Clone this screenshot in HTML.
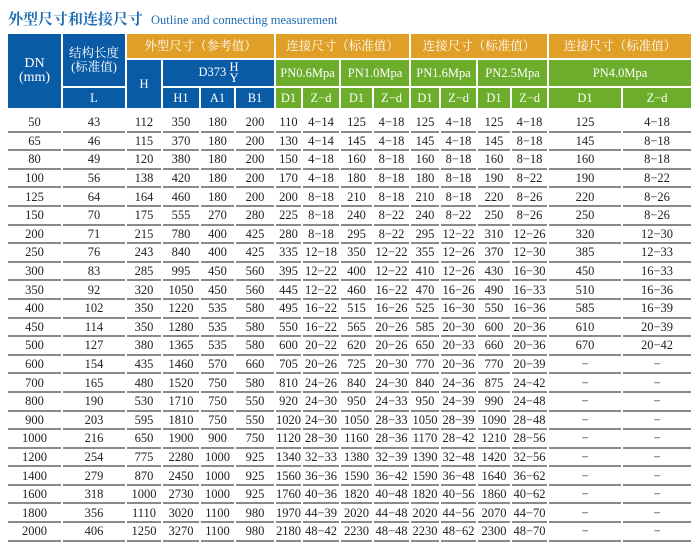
<!DOCTYPE html>
<html><head><meta charset="utf-8"><style>
body{margin:0;width:700px;height:552px;background:#fff;overflow:hidden;font-family:"Liberation Serif","Noto Serif CJK SC",serif;}
.title{position:absolute;left:8px;top:8px;color:#1f6db5;white-space:nowrap}
.title b{font-family:"Liberation Serif","Noto Serif CJK SC",serif;font-size:15px;font-weight:bold}
.title span{font-size:12.5px;margin-left:8px}
table{position:absolute;left:6px;border-collapse:separate;table-layout:fixed;width:687px}
#h{top:32px;border-spacing:2px}
#h td{color:#fff;text-align:center;font-size:12.5px;padding:0;line-height:14px}
.b{background:#0a5ba6}.o{background:#e0a028}.g{background:#6cad2b}
#d{top:114px;border-spacing:2px 0}
#d td{height:16.6px;border-bottom:2px solid #8a8a8a;text-align:center;font-size:12.5px;color:#222;padding:0;line-height:16px;white-space:nowrap}
</style></head><body>
<div class="title"><b>外型尺寸和连接尺寸</b><span>Outline and connecting measurement</span></div>
<table id="h">
<colgroup><col style="width:53px"><col style="width:62px"><col style="width:34px"><col style="width:36px"><col style="width:33px"><col style="width:38px"><col style="width:25px"><col style="width:36px"><col style="width:31px"><col style="width:35px"><col style="width:28px"><col style="width:35px"><col style="width:32px"><col style="width:35px"><col style="width:72px"><col style="width:68px"></colgroup>
<tr style="height:24px"><td class="b" rowspan="3" style="font-size:14px">DN<br>(mm)</td><td class="b" rowspan="2" style="height:50px">结构长度<br>(标准值)</td><td class="o" colspan="4">外型尺寸（参考值）</td><td class="o" colspan="4">连接尺寸（标准值）</td><td class="o" colspan="4">连接尺寸（标准值）</td><td class="o" colspan="2">连接尺寸（标准值）</td></tr>
<tr style="height:26px"><td class="b" rowspan="2">H</td><td class="b" colspan="3">D373 <span style="display:inline-block;vertical-align:middle;line-height:11px">H<br>Y</span></td><td class="g" colspan="2">PN0.6Mpa</td><td class="g" colspan="2">PN1.0Mpa</td><td class="g" colspan="2">PN1.6Mpa</td><td class="g" colspan="2">PN2.5Mpa</td><td class="g" colspan="2">PN4.0Mpa</td></tr>
<tr style="height:20px"><td class="b">L</td><td class="b">H1</td><td class="b">A1</td><td class="b">B1</td><td class="g">D1</td><td class="g">Z−d</td><td class="g">D1</td><td class="g">Z−d</td><td class="g">D1</td><td class="g">Z−d</td><td class="g">D1</td><td class="g">Z−d</td><td class="g">D1</td><td class="g">Z−d</td></tr>
</table>
<table id="d">
<colgroup><col style="width:53px"><col style="width:62px"><col style="width:34px"><col style="width:36px"><col style="width:33px"><col style="width:38px"><col style="width:25px"><col style="width:36px"><col style="width:31px"><col style="width:35px"><col style="width:28px"><col style="width:35px"><col style="width:32px"><col style="width:35px"><col style="width:72px"><col style="width:68px"></colgroup>
<tr><td>50</td><td>43</td><td>112</td><td>350</td><td>180</td><td>200</td><td>110</td><td>4−14</td><td>125</td><td>4−18</td><td>125</td><td>4−18</td><td>125</td><td>4−18</td><td>125</td><td>4−18</td></tr>
<tr><td>65</td><td>46</td><td>115</td><td>370</td><td>180</td><td>200</td><td>130</td><td>4−14</td><td>145</td><td>4−18</td><td>145</td><td>4−18</td><td>145</td><td>8−18</td><td>145</td><td>8−18</td></tr>
<tr><td>80</td><td>49</td><td>120</td><td>380</td><td>180</td><td>200</td><td>150</td><td>4−18</td><td>160</td><td>8−18</td><td>160</td><td>8−18</td><td>160</td><td>8−18</td><td>160</td><td>8−18</td></tr>
<tr><td>100</td><td>56</td><td>138</td><td>420</td><td>180</td><td>200</td><td>170</td><td>4−18</td><td>180</td><td>8−18</td><td>180</td><td>8−18</td><td>190</td><td>8−22</td><td>190</td><td>8−22</td></tr>
<tr><td>125</td><td>64</td><td>164</td><td>460</td><td>180</td><td>200</td><td>200</td><td>8−18</td><td>210</td><td>8−18</td><td>210</td><td>8−18</td><td>220</td><td>8−26</td><td>220</td><td>8−26</td></tr>
<tr><td>150</td><td>70</td><td>175</td><td>555</td><td>270</td><td>280</td><td>225</td><td>8−18</td><td>240</td><td>8−22</td><td>240</td><td>8−22</td><td>250</td><td>8−26</td><td>250</td><td>8−26</td></tr>
<tr><td>200</td><td>71</td><td>215</td><td>780</td><td>400</td><td>425</td><td>280</td><td>8−18</td><td>295</td><td>8−22</td><td>295</td><td>12−22</td><td>310</td><td>12−26</td><td>320</td><td>12−30</td></tr>
<tr><td>250</td><td>76</td><td>243</td><td>840</td><td>400</td><td>425</td><td>335</td><td>12−18</td><td>350</td><td>12−22</td><td>355</td><td>12−26</td><td>370</td><td>12−30</td><td>385</td><td>12−33</td></tr>
<tr><td>300</td><td>83</td><td>285</td><td>995</td><td>450</td><td>560</td><td>395</td><td>12−22</td><td>400</td><td>12−22</td><td>410</td><td>12−26</td><td>430</td><td>16−30</td><td>450</td><td>16−33</td></tr>
<tr><td>350</td><td>92</td><td>320</td><td>1050</td><td>450</td><td>560</td><td>445</td><td>12−22</td><td>460</td><td>16−22</td><td>470</td><td>16−26</td><td>490</td><td>16−33</td><td>510</td><td>16−36</td></tr>
<tr><td>400</td><td>102</td><td>350</td><td>1220</td><td>535</td><td>580</td><td>495</td><td>16−22</td><td>515</td><td>16−26</td><td>525</td><td>16−30</td><td>550</td><td>16−36</td><td>585</td><td>16−39</td></tr>
<tr><td>450</td><td>114</td><td>350</td><td>1280</td><td>535</td><td>580</td><td>550</td><td>16−22</td><td>565</td><td>20−26</td><td>585</td><td>20−30</td><td>600</td><td>20−36</td><td>610</td><td>20−39</td></tr>
<tr><td>500</td><td>127</td><td>380</td><td>1365</td><td>535</td><td>580</td><td>600</td><td>20−22</td><td>620</td><td>20−26</td><td>650</td><td>20−33</td><td>660</td><td>20−36</td><td>670</td><td>20−42</td></tr>
<tr><td>600</td><td>154</td><td>435</td><td>1460</td><td>570</td><td>660</td><td>705</td><td>20−26</td><td>725</td><td>20−30</td><td>770</td><td>20−36</td><td>770</td><td>20−39</td><td>−</td><td>−</td></tr>
<tr><td>700</td><td>165</td><td>480</td><td>1520</td><td>750</td><td>580</td><td>810</td><td>24−26</td><td>840</td><td>24−30</td><td>840</td><td>24−36</td><td>875</td><td>24−42</td><td>−</td><td>−</td></tr>
<tr><td>800</td><td>190</td><td>530</td><td>1710</td><td>750</td><td>550</td><td>920</td><td>24−30</td><td>950</td><td>24−33</td><td>950</td><td>24−39</td><td>990</td><td>24−48</td><td>−</td><td>−</td></tr>
<tr><td>900</td><td>203</td><td>595</td><td>1810</td><td>750</td><td>550</td><td>1020</td><td>24−30</td><td>1050</td><td>28−33</td><td>1050</td><td>28−39</td><td>1090</td><td>28−48</td><td>−</td><td>−</td></tr>
<tr><td>1000</td><td>216</td><td>650</td><td>1900</td><td>900</td><td>750</td><td>1120</td><td>28−30</td><td>1160</td><td>28−36</td><td>1170</td><td>28−42</td><td>1210</td><td>28−56</td><td>−</td><td>−</td></tr>
<tr><td>1200</td><td>254</td><td>775</td><td>2280</td><td>1000</td><td>925</td><td>1340</td><td>32−33</td><td>1380</td><td>32−39</td><td>1390</td><td>32−48</td><td>1420</td><td>32−56</td><td>−</td><td>−</td></tr>
<tr><td>1400</td><td>279</td><td>870</td><td>2450</td><td>1000</td><td>925</td><td>1560</td><td>36−36</td><td>1590</td><td>36−42</td><td>1590</td><td>36−48</td><td>1640</td><td>36−62</td><td>−</td><td>−</td></tr>
<tr><td>1600</td><td>318</td><td>1000</td><td>2730</td><td>1000</td><td>925</td><td>1760</td><td>40−36</td><td>1820</td><td>40−48</td><td>1820</td><td>40−56</td><td>1860</td><td>40−62</td><td>−</td><td>−</td></tr>
<tr><td>1800</td><td>356</td><td>1110</td><td>3020</td><td>1100</td><td>980</td><td>1970</td><td>44−39</td><td>2020</td><td>44−48</td><td>2020</td><td>44−56</td><td>2070</td><td>44−70</td><td>−</td><td>−</td></tr>
<tr><td>2000</td><td>406</td><td>1250</td><td>3270</td><td>1100</td><td>980</td><td>2180</td><td>48−42</td><td>2230</td><td>48−48</td><td>2230</td><td>48−62</td><td>2300</td><td>48−70</td><td>−</td><td>−</td></tr>
</table>
</body></html>
